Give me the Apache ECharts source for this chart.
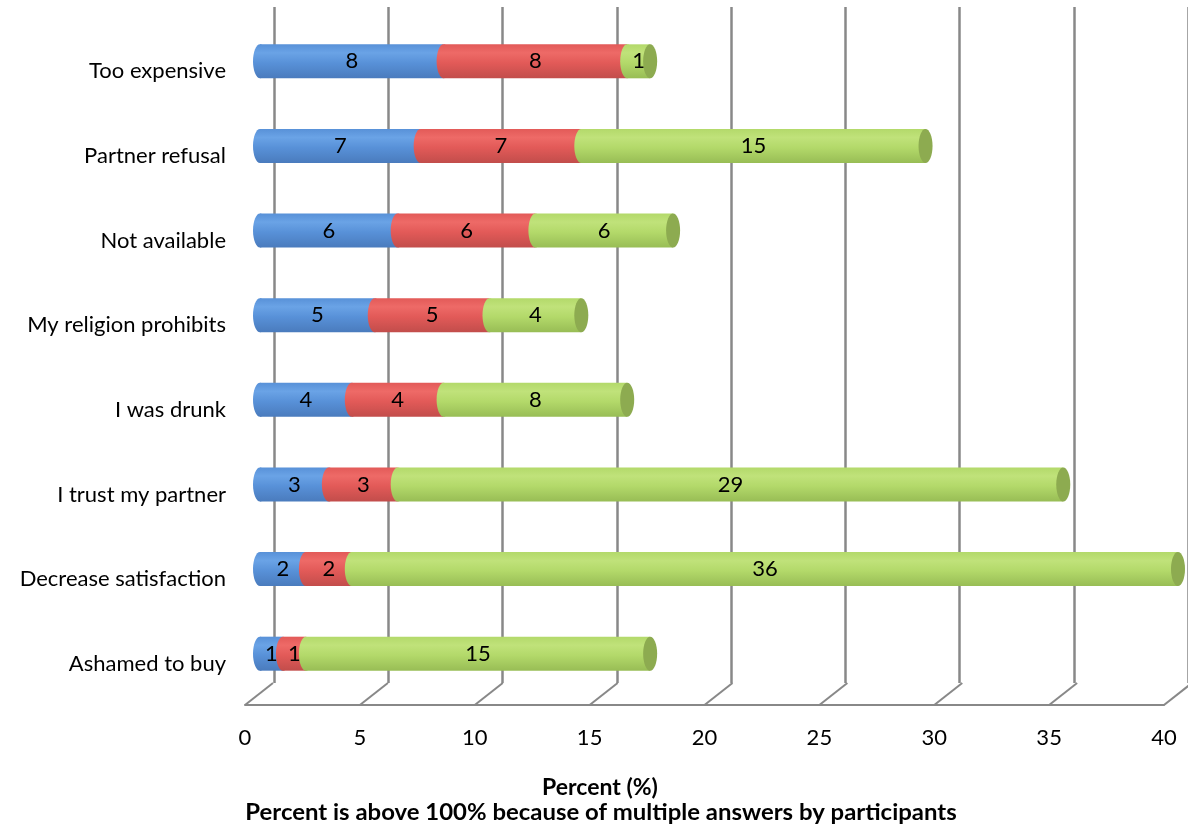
<!DOCTYPE html>
<html>
<head>
<meta charset="utf-8">
<script src="https://cdn.jsdelivr.net/npm/echarts@6/dist/echarts.min.js"></script>
<style>html,body{margin:0;padding:0;background:#fff;}#c{width:1188px;height:830px;}</style>
</head>
<body>
<div id="c"></div>
<script>
const categories = ['Too expensive','Partner refusal','Not available','My religion prohibits','I was drunk','I trust my partner','Decrease satisfaction','Ashamed to buy'];
const seriesA = [8,7,6,5,4,3,2,1];
const seriesB = [8,7,6,5,4,3,2,1];
const seriesC = [1,15,6,4,8,29,36,15];
const xTicks = [0,5,10,15,20,25,30,35,40];
const axisTitle = 'Percent (%)';
const axisNote = 'Percent is above 100% because of multiple answers by participants';

const FONT = 'Lato, "Open Sans", sans-serif';
const stacks = [seriesA, seriesB, seriesC];
const palettes = [
  {top:'#6aa3e6', mid:'#5891d8', bot:'#4a7bbd', cap:'#4a7bbd'},
  {top:'#ee6a67', mid:'#e25a58', bot:'#c24d4b', cap:'#c24d4b'},
  {top:'#c0e27a', mid:'#b3d96a', bot:'#98bd55', cap:'#8dab50'}
];
function grad(p){
  return new echarts.graphic.LinearGradient(0,0,0,1,[
    {offset:0,color:p.mid},{offset:0.25,color:p.top},{offset:0.55,color:p.mid},{offset:1,color:p.bot}]);
}
const RX = 7, DEPTH_X = 28, DEPTH_Y = 22;

function cylSeries(si){
  const vals = stacks[si];
  const data = vals.map((v,i)=>{
    let start = 0;
    for(let k=0;k<si;k++) start += stacks[k][i];
    return [start, start+v, i, v];
  });
  const last = si === stacks.length-1;
  return {
    type:'custom', xAxisIndex:0, yAxisIndex:0, z:10+si,
    data: data,
    encode:{x:[0,1], y:2},
    renderItem: function(params, api){
      const s = api.value(0), e = api.value(1), c = api.value(2), v = api.value(3);
      const p0 = api.coord([s, c]);
      const p1 = api.coord([e, c]);
      const h = 34;
      const top = p0[1]-h/2;
      const x0 = p0[0]+RX, x1 = p1[0]+RX;
      const fill = grad(palettes[si]);
      const children = [
        {type:'ellipse', shape:{cx:x0, cy:p0[1], rx:RX, ry:h/2}, style:{fill:fill}},
        {type:'rect', shape:{x:x0, y:top, width:Math.max(0,x1-x0), height:h}, style:{fill:fill}}
      ];
      if(last){
        children.push({type:'ellipse', shape:{cx:x1, cy:p0[1], rx:RX, ry:h/2}, style:{fill:palettes[si].cap}});
      }
      children.push({type:'text', x:(x0+x1)/2, y:p0[1], style:{text:String(v), fill:'#000', font:'22px '+FONT, textAlign:'center', textVerticalAlign:'middle'}});
      return {type:'group', children:children};
    }
  };
}

const option = {
  animation:false,
  grid:[
    {left:253, width:918, top:19, height:677},
    {left:274, width:916, top:7, height:676},
    {left:245, width:919, top:704, height:1}
  ],
  xAxis:[
    {gridIndex:0, type:'value', min:0, max:40, interval:5, show:false},
    {gridIndex:1, type:'value', min:0, max:40, interval:5, axisLine:{show:false}, axisTick:{show:false}, axisLabel:{show:false},
      splitLine:{show:true, lineStyle:{color:'#888', width:2.5}}},
    {gridIndex:2, type:'value', min:0, max:40, interval:5, axisLine:{show:true, lineStyle:{color:'#888', width:2}}, axisTick:{show:false},
      splitLine:{show:false},
      axisLabel:{show:true, margin:22, color:'#000', fontSize:22, fontFamily:FONT,
        formatter:function(v){return xTicks.indexOf(v)>=0?String(v):'';}}}
  ],
  yAxis:[
    {gridIndex:0, type:'category', data:categories, inverse:true, axisLine:{show:false}, axisTick:{show:false},
      axisLabel:{margin:27, color:'#000', fontSize:22, fontFamily:FONT, verticalAlign:'top', lineHeight:20}},
    {gridIndex:1, type:'value', min:0, max:1, show:false},
    {gridIndex:2, type:'value', min:0, max:1, show:false}
  ],
  series:[
    {type:'custom', xAxisIndex:2, yAxisIndex:2, z:2, data:xTicks.map(t=>[t,0]),
      renderItem:function(params, api){
        const p = api.coord([api.value(0), 0]);
        return {type:'line', shape:{x1:p[0], y1:p[1], x2:p[0]+DEPTH_X, y2:p[1]-DEPTH_Y},
          style:{stroke:'#888', lineWidth:2}};
      }},
    cylSeries(0), cylSeries(1), cylSeries(2)
  ],
  graphic:[
    {type:'text', x:600, y:788, style:{text:axisTitle, font:'bold 23px '+FONT, fill:'#000', textAlign:'center', textVerticalAlign:'middle'}},
    {type:'text', x:601, y:813, scaleX:1.04, originX:0, style:{text:axisNote, font:'bold 23px '+FONT, fill:'#000', textAlign:'center', textVerticalAlign:'middle'}}
  ]
};
const chart = echarts.init(document.getElementById('c'));
chart.setOption(option);
</script>
</body>
</html>
